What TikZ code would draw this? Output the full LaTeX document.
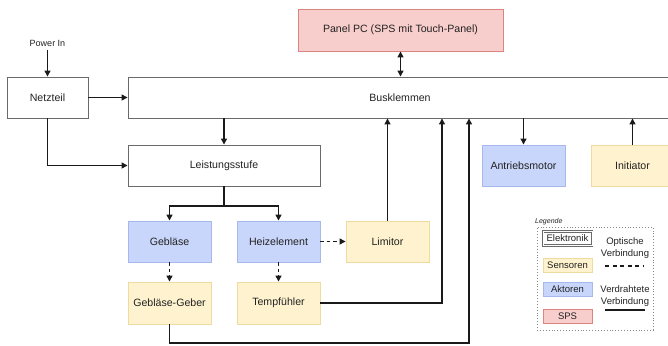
\documentclass[tikz,border=0pt]{standalone}
\usepackage{fontspec}
\setmainfont{Liberation Sans}
\usetikzlibrary{arrows.meta,positioning,calc}

\definecolor{elBorder}{HTML}{6A6A6A}
\definecolor{akFill}{HTML}{C9D6FB}
\definecolor{akBorder}{HTML}{A6B8EC}
\definecolor{seFill}{HTML}{FFF3CF}
\definecolor{seBorder}{HTML}{EFDBA0}
\definecolor{spsFill}{HTML}{F8CECC}
\definecolor{spsBorder}{HTML}{DB8583}
\definecolor{txt}{HTML}{222222}
\definecolor{wire}{HTML}{1A1A1A}

\tikzset{
  x=1pt, y=-1pt,
  tip/.tip={Triangle[length=6pt,width=6pt]},
  box/.style={rectangle, draw, line width=0.9pt, inner sep=0pt, text=txt,
    font=\fontsize{10.6}{12.5}\selectfont, minimum width=83pt, minimum height=41pt},
  elektronik/.style={box, draw=elBorder, fill=white},
  aktor/.style={box, draw=akBorder, fill=akFill},
  sensor/.style={box, draw=seBorder, fill=seFill},
  sps/.style={box, draw=spsBorder, fill=spsFill},
  wired/.style={draw=wire, line width=1.3pt, -tip},
  optical/.style={wired, dash pattern=on 3.5pt off 3pt},
  legbox/.style={rectangle, line width=0.8pt, inner sep=0pt, text=txt,
    font=\fontsize{9.5}{11}\selectfont, minimum width=49pt, minimum height=14pt},
  legtext/.style={align=center, text=txt, font=\fontsize{9.5}{11.5}\selectfont}
}

\begin{document}
\begin{tikzpicture}
\useasboundingbox (0,0) rectangle (668,345);

% main blocks
\node[sps] (panel) at (400.5,30) [minimum width=205pt, minimum height=42pt] {Panel PC (SPS mit Touch-Panel)};
\node[elektronik] (netz) at (47.5,97.5) [minimum width=81pt] {Netzteil};
\node[elektronik] (bus) at (400,97.5) [minimum width=544pt] {Busklemmen};
\node[elektronik] (leist) at (224,165.5) [minimum width=192pt] {Leistungsstufe};
\node[aktor] (antrieb) at (523.5,165.5) {Antriebsmotor};
\node[sensor] (init) at (632.5,165.5) {Initiator};
\node[aktor] (geb) at (169.5,241.5) {Gebläse};
\node[aktor] (heiz) at (278.5,241.5) {Heizelement};
\node[sensor] (lim) at (387.5,241.5) {Limitor};
\node[sensor] (geber) at (169.5,303) [minimum height=42pt] {Gebläse-Geber};
\node[sensor] (temp) at (278.5,303) [minimum height=42pt] {Tempfühler};

% power input
\node[text=txt, font=\fontsize{9}{10}\selectfont] (pin) at (47.5,43) {Power In};
\draw[wired] (pin.south) -- (netz.north);

% supply paths
\draw[wired] (netz.east) -- (bus.west);
\draw[wired] (netz.south) |- (leist.west);
\draw[wired] (bus.south -| leist.north) -- (leist.north);
\draw[draw=wire, line width=1.3pt, tip-tip] (panel.south) -- (panel.south |- bus.north);

% power stage to actuators
\coordinate (split) at (224,206);
\draw[wired] (leist.south) -- (split) -| (geb.north);
\draw[wired] (split) -| (heiz.north);

% optical couplings
\draw[optical] (geb.south) -- (geber.north);
\draw[optical] (heiz.south) -- (temp.north);
\draw[optical] (heiz.east) -- (lim.west);

% sensor feedback to bus terminals
\draw[wired] (lim.north) -- (lim.north |- bus.south);
\coordinate (tempUp) at (442,303);
\draw[wired] (temp.east) -- (tempUp) -- (tempUp |- bus.south);
\coordinate (geberLow) at (169.5,343);
\coordinate (geberUp) at (469,343);
\draw[wired] (geber.south) -- (geberLow) -- (geberUp) -- (geberUp |- bus.south);

% drive and initiator
\draw[wired] (bus.south -| antrieb.north) -- (antrieb.north);
\draw[wired] (init.north) -- (init.north |- bus.south);

% legend
\node[draw=elBorder!80, dotted, line width=0.9pt, minimum width=116pt, minimum height=103pt, inner sep=0pt] (legend) at (595,278.5) {};
\node[anchor=south west, inner sep=0pt, text=txt, font=\itshape\fontsize{7}{8}\selectfont] (legtitle) at (535,225) {Legende};
\node[legbox, draw=elBorder, double=white, double distance=0.6pt, fill=white] (lel) at (567.5,238.5) {Elektronik};
\node[legbox, draw=seBorder, fill=seFill] (lse) at (567.5,265) {Sensoren};
\node[legbox, draw=akBorder, fill=akFill] (lak) at (567.5,289.5) {Aktoren};
\node[legbox, draw=spsBorder, fill=spsFill] (lsps) at (567.5,316.5) {SPS};
\node[legtext] (lopt) at (625,248) {Optische\\Verbindung};
\coordinate (optA) at (605,266);
\coordinate (optB) at (643,266);
\draw[draw=wire, line width=1.2pt, dash pattern=on 4pt off 3.5pt] (optA) -- (optB);
\node[legtext] (lwire) at (625,296) {Verdrahtete\\Verbindung};
\coordinate (wirA) at (605,310);
\coordinate (wirB) at (645,310);
\draw[draw=wire, line width=1.6pt] (wirA) -- (wirB);
\end{tikzpicture}
\end{document}
